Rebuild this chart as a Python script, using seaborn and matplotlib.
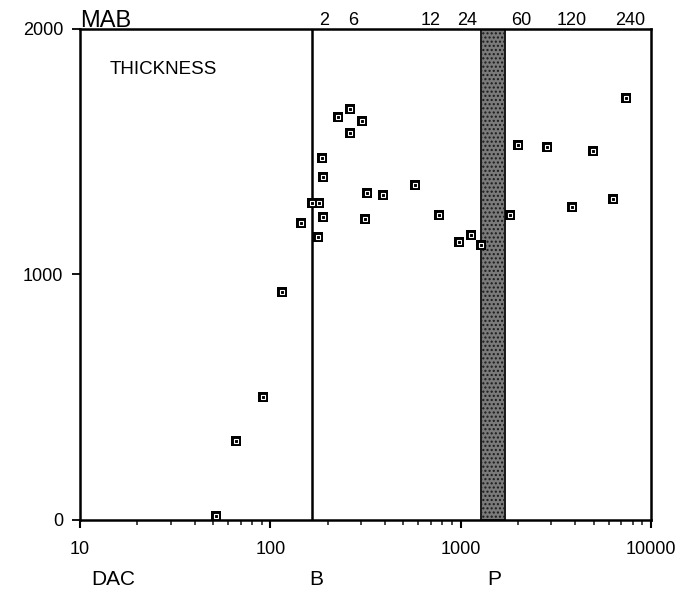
import matplotlib
matplotlib.use("Agg")
import matplotlib.pyplot as plt
import matplotlib.ticker as mticker
from matplotlib.transforms import blended_transform_factory
import pandas as pd
import seaborn as sns

# Observations: DAC (x, log scale) and layer thickness (y)
dac = [51.7, 65.8, 91.9, 114.8, 145.0, 166.3, 180.9, 177.5, 187.7, 188.6,
       189.9, 227.7, 262.3, 263.3, 304.4, 315.2, 322.2, 391.0, 576, 767,
       981, 1134, 1275, 1825, 1995, 2855, 3849, 4946, 6322, 7400]
thickness = [18, 322, 502, 930, 1208, 1290, 1290, 1154, 1476, 1398,
             1234, 1640, 1675, 1575, 1625, 1226, 1331, 1325, 1366, 1243,
             1132, 1161, 1121, 1243, 1526, 1519, 1276, 1504, 1309, 1720]

# Stage boundaries
boundary_b = 165
band_p = (1280, 1710)

# Stage names under the x axis
zone_labels = ["DAC", "B", "P"]
zone_pos = [15, 174, 1500]

# MAB scale along the top
mab_labels = ["2", "6", "12", "24", "60", "120", "240"]
mab_pos = [192, 274, 697, 1080, 2070, 3835, 7760]

x_ticks = [10, 100, 1000, 10000]
y_ticks = [0, 1000, 2000]

sns.set_theme(style="ticks")
plt.rcParams["font.family"] = ["Liberation Sans", "DejaVu Sans"]
plt.rcParams["hatch.linewidth"] = 1.0

df = pd.DataFrame({"DAC": dac, "Thickness": thickness})

fig = plt.figure(figsize=(6.98, 5.94), dpi=100)
ax = fig.add_axes([0.1146, 0.1246, 0.818, 0.8266])

ax.set_xscale("log")
ax.set_xlim(10, 10000)
ax.set_ylim(0, 2000)

# shaded P band and B boundary
ax.axvspan(band_p[0], band_p[1], facecolor="#7a7a7a", edgecolor="#1a1a1a",
           hatch="....", linewidth=1.4, zorder=1)
ax.axvline(boundary_b, color="black", lw=1.8, zorder=2)

# solid square markers with a small open centre
sns.scatterplot(data=df, x="DAC", y="Thickness", marker="s", s=62,
                color="black", edgecolor="black", linewidth=0, ax=ax, zorder=3)
sns.scatterplot(data=df, x="DAC", y="Thickness", marker="s", s=5,
                color="black", edgecolor="white", linewidth=0.8, ax=ax, zorder=4)

ax.set_xlabel("")
ax.set_ylabel("")

for sp in ax.spines.values():
    sp.set_visible(True)
    sp.set_linewidth(1.8)
    sp.set_color("black")

ax.xaxis.set_major_locator(mticker.FixedLocator(x_ticks))
ax.xaxis.set_major_formatter(mticker.FixedFormatter([str(t) for t in x_ticks]))
ax.xaxis.set_minor_locator(mticker.LogLocator(base=10, subs=range(2, 10)))
ax.xaxis.set_minor_formatter(mticker.NullFormatter())
ax.yaxis.set_major_locator(mticker.FixedLocator(y_ticks))
ax.yaxis.set_minor_locator(mticker.NullLocator())

ax.tick_params(axis="x", which="major", direction="out", length=6, width=1.5,
               pad=9, labelsize=13, colors="black", top=False)
ax.tick_params(axis="x", which="minor", direction="out", length=3.5, width=1.2,
               top=False)
ax.tick_params(axis="y", which="major", direction="out", length=6, width=1.3,
               pad=6, labelsize=13, colors="black", right=False)

bt = blended_transform_factory(ax.transData, ax.transAxes)
for lab, pos in zip(zone_labels, zone_pos):
    ax.text(pos, -0.122, lab, transform=bt, ha="center", va="center",
            fontsize=15, color="black")
for lab, pos in zip(mab_labels, mab_pos):
    ax.text(pos, 1.009, lab, transform=bt, ha="center", va="baseline",
            fontsize=13, color="black")

ax.text(0.0, 1.004, "MAB", transform=ax.transAxes, ha="left", va="baseline",
        fontsize=17, color="black")
ax.text(0.0525, 0.9165, "THICKNESS", transform=ax.transAxes, ha="left",
        va="center", fontsize=13.5, color="black")

fig.savefig("out.png", dpi=100)
